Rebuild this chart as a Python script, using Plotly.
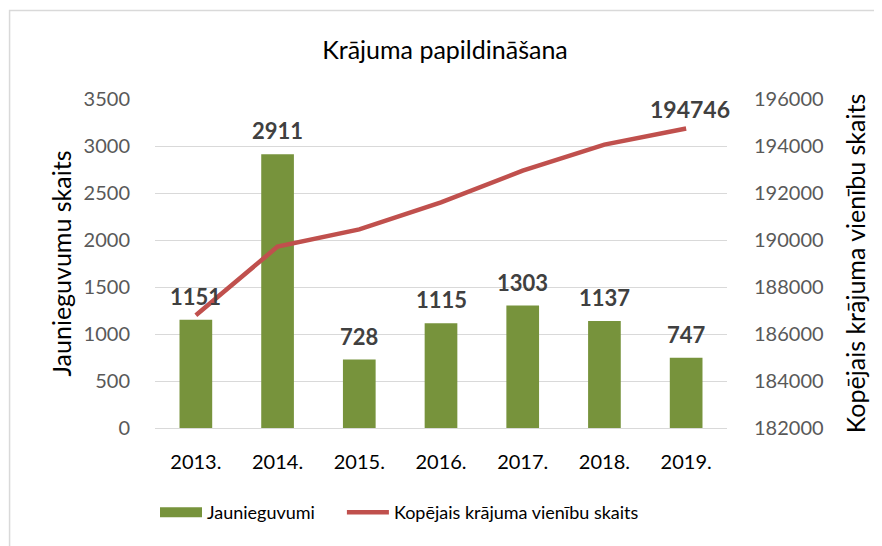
import plotly.graph_objects as go

years = ["2013.", "2014.", "2015.", "2016.", "2017.", "2018.", "2019."]
new_items = [1151, 2911, 728, 1115, 1303, 1137, 747]
total_items = [186800, 189720, 190450, 191600, 192950, 194060, 194746]

GREEN = "#77933C"
RED = "#C0504D"
FONT = "Lato"
W, H = 874, 538          # page body has an 8px margin
L, R, T, B = 147, 154.7, 91.3, 118.3
PW, PH = W - L - R, H - T - B

fig = go.Figure()
fig.add_trace(go.Bar(
    x=years, y=new_items, name="Jaunieguvumi", showlegend=False,
    marker=dict(color=GREEN, line=dict(width=0)), width=0.4,
))
# legend-only entry so the key is a wide block like the original
fig.add_trace(go.Scatter(
    x=[None], y=[None], name="Jaunieguvumi", mode="lines",
    line=dict(color=GREEN, width=11), legend="legend",
))
fig.add_trace(go.Scatter(
    x=years, y=total_items, name="Kopējais krājuma vienību skaits",
    mode="lines", yaxis="y2", line=dict(color=RED, width=4.5), legend="legend2",
))

# value labels (category index used as x, since "2013." would be read as a number)
for i, v in enumerate(new_items):
    fig.add_annotation(
        x=i, y=v, yref="y", text=f"<b>{v}</b>", showarrow=False,
        yanchor="bottom", yshift=8, font=dict(family=FONT, size=22, color="#404040"),
    )
fig.add_annotation(
    x=len(years) - 1, y=total_items[-1], yref="y2", text=f"<b>{total_items[-1]}</b>",
    showarrow=False, yanchor="bottom", yshift=3, xshift=4,
    font=dict(family=FONT, size=23, color="#404040"),
)

# outer chart border (top and left visible)
fig.add_shape(
    type="rect", xref="paper", yref="paper",
    x0=(1.5 - L) / PW, x1=1.4, y0=-0.5, y1=1 + (T - 3) / PH,
    line=dict(color="#D9D9D9", width=1.5), layer="below",
)

leg_style = dict(orientation="h", xanchor="left", yanchor="middle",
                 y=1 - (504 - T) / PH,
                 font=dict(family=FONT, size=18, color="#000000"), itemwidth=42)

fig.update_layout(
    width=W, height=H,
    margin=dict(l=L, r=R, t=T, b=B, autoexpand=False),
    paper_bgcolor="white", plot_bgcolor="white",
    font=dict(family=FONT, color="#000000"),
    title=dict(text="Krājuma papildināšana", x=0.5, xanchor="center",
               y=1 - 42 / H, yanchor="middle",
               font=dict(family=FONT, size=25, color="#000000")),
    showlegend=True,
    legend=dict(x=0.0, **leg_style),
    legend2=dict(x=(339 - 5 - L) / PW, **leg_style),
    xaxis=dict(
        type="category", range=[-0.5, 6.5], showgrid=False, showline=True,
        linecolor="#D9D9D9", linewidth=1,
        ticks="outside", ticklen=16, tickcolor="rgba(0,0,0,0)",
        tickfont=dict(family=FONT, size=20, color="#000000"),
        automargin=False,
    ),
    yaxis=dict(
        range=[0, 3500], dtick=500, showgrid=True, gridcolor="#D9D9D9", gridwidth=1,
        zeroline=False, ticks="outside", ticklen=20, tickcolor="rgba(0,0,0,0)",
        tickfont=dict(family=FONT, size=20, color="#595959"),
        automargin=False,
        title=dict(text="Jaunieguvumu skaits", standoff=4,
                   font=dict(family=FONT, size=25, color="#000000")),
    ),
    yaxis2=dict(
        range=[182000, 196000], dtick=2000, overlaying="y", side="right",
        showgrid=False, zeroline=False, tickformat="d",
        ticks="outside", ticklen=22, tickcolor="rgba(0,0,0,0)",
        tickfont=dict(family=FONT, size=20, color="#595959"),
        automargin=False,
        title=dict(text="Kopējais krājuma vienību skaits", standoff=24,
                   font=dict(family=FONT, size=25, color="#000000")),
    ),
)

fig.write_html("out.html")
